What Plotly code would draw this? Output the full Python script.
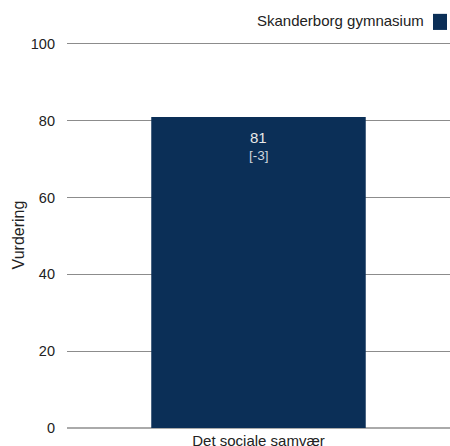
import plotly.graph_objects as go

categories = ["Det sociale samvær"]
values = [81]
diffs = [-3]
series_name = "Skanderborg gymnasium"
y_ticks = [0, 20, 40, 60, 80, 100]

bar_color = "#0b2f57"
font_family = "Liberation Sans, Arial, sans-serif"

fig = go.Figure()
fig.add_trace(go.Bar(
    x=categories, y=values, name=series_name,
    marker=dict(color=bar_color, line=dict(width=0)),
    width=0.56, showlegend=False, hoverinfo="skip",
))

for c, v, d in zip(categories, values, diffs):
    fig.add_annotation(
        x=c, y=v, xref="x", yref="y", showarrow=False,
        yanchor="top", yshift=-10, text=f"{v}",
        font=dict(color="#e8e8e8", size=15, family=font_family),
    )
    fig.add_annotation(
        x=c, y=v, xref="x", yref="y", showarrow=False,
        yanchor="top", yshift=-29, text=f"[{d}]",
        font=dict(color="#d0d6de", size=13.5, family=font_family),
    )

fig.update_layout(
    width=450, height=446,
    margin=dict(l=67, r=0, t=42, b=18),
    paper_bgcolor="white", plot_bgcolor="white",
    font=dict(family=font_family, size=14, color="#222"),
    xaxis=dict(showgrid=False, showline=False, zeroline=False, automargin=False,
               tickfont=dict(size=15), ticks="", ticklabelstandoff=2),
    yaxis=dict(range=[0, 100.5], tickvals=y_ticks, showgrid=True,
               gridcolor="#8c8c8c", gridwidth=1, zeroline=True,
               zerolinecolor="#aaaaaa", zerolinewidth=2, automargin=False,
               showline=False, ticks="", ticklabelstandoff=11,
               tickfont=dict(size=14.5),
               title=dict(text="Vurdering", font=dict(size=16), standoff=2)),
)

fig.add_annotation(
    text=series_name, xref="paper", yref="paper",
    x=(426 - 67) / 383, y=(428 - 23) / 384,
    xanchor="right", yanchor="middle", showarrow=False,
    font=dict(size=15, color="#222", family=font_family),
)
fig.add_shape(
    type="rect", xref="paper", yref="paper",
    x0=(433 - 67) / 383, x1=(447 - 67) / 383,
    y0=(428 - 32) / 384, y1=(428 - 16) / 384,
    fillcolor=bar_color, line=dict(width=0),
)

fig.write_html(
    "out.html",
    config={"displayModeBar": False},
    post_script="document.body.style.margin='0';document.body.style.overflow='hidden';",
)
